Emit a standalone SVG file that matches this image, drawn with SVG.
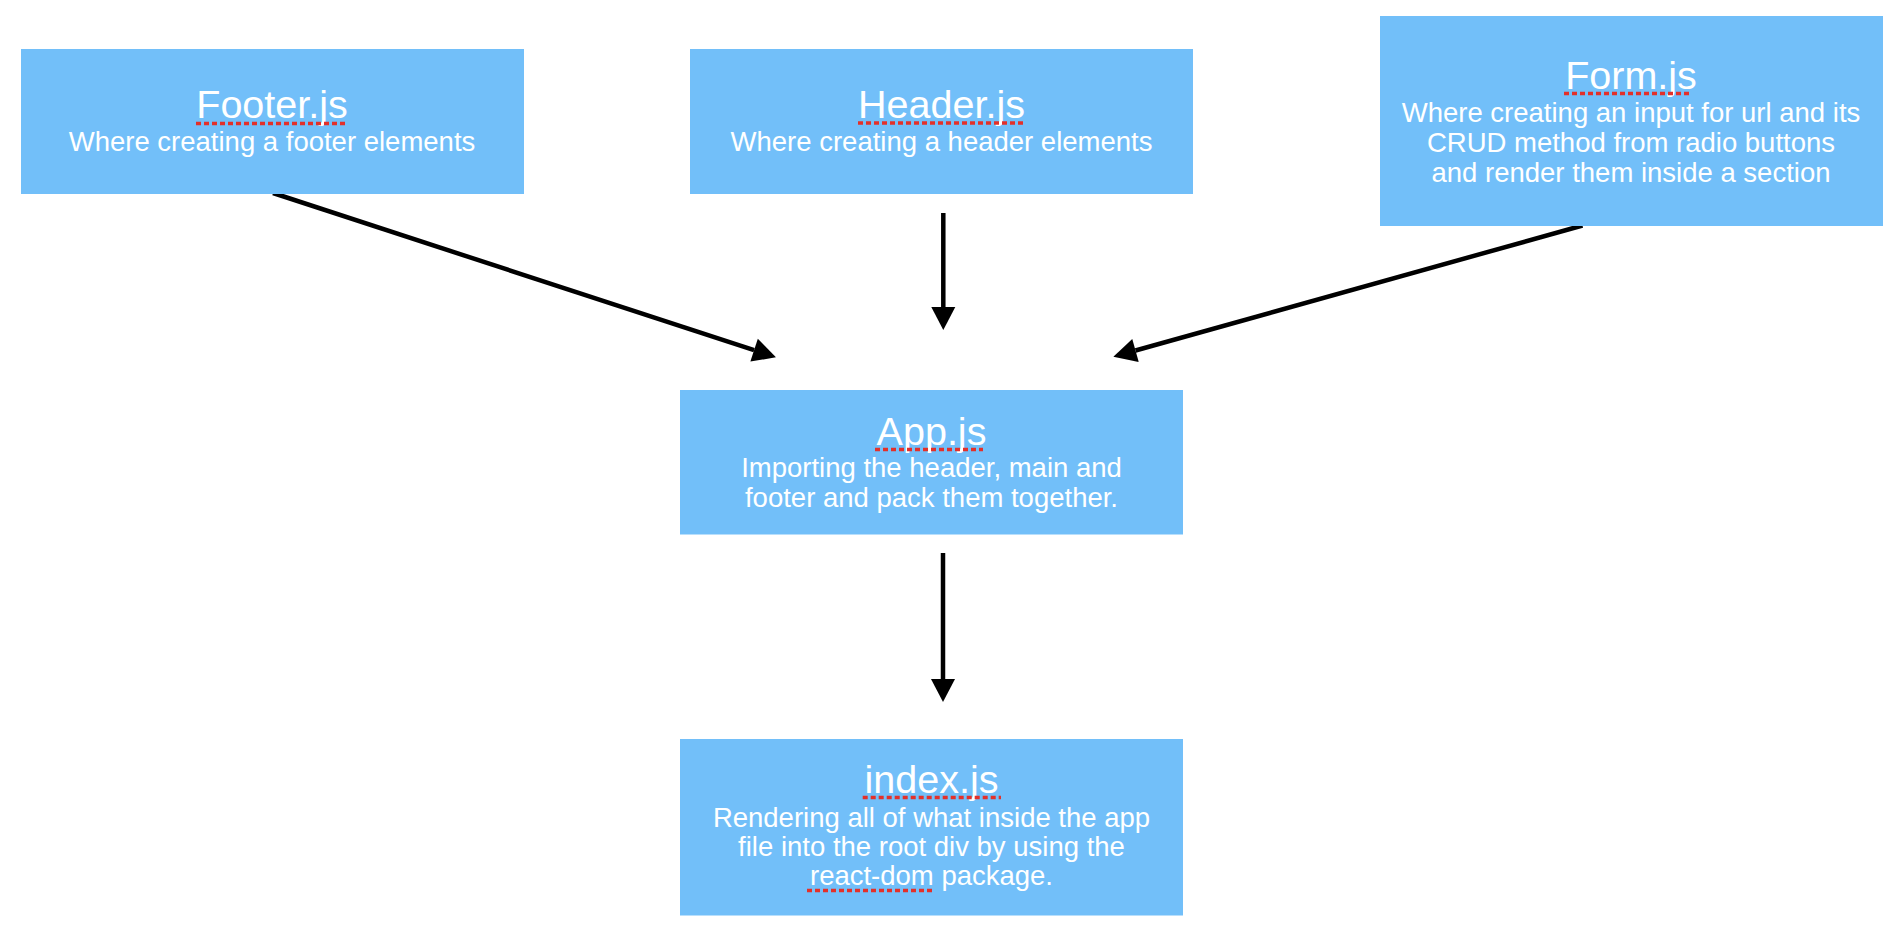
<svg xmlns="http://www.w3.org/2000/svg" width="1890" height="932" viewBox="0 0 1890 932">
<style>
.box{fill:#72bff9;stroke:none}
.t{font-family:"Liberation Sans",Arial,Helvetica,sans-serif;fill:#ffffff;text-anchor:middle}
.ti{font-size:39.5px}
.st{font-size:27.5px}
.sp{stroke:#e3302a;stroke-width:3.5;stroke-dasharray:5 3;fill:none}
.c{stroke:#000;stroke-width:4.5;fill:none}
</style>
<defs>
<marker id="ah" markerUnits="userSpaceOnUse" markerWidth="24" markerHeight="24" refX="0" refY="12" orient="auto" overflow="visible">
<path d="M0,0 L23,12 L0,24 Z" fill="#000"/>
</marker>
</defs>
<rect width="1890" height="932" fill="#ffffff"/>
<g id="connectors">
<line class="c" x1="273" y1="193" x2="754.1" y2="350.2" marker-end="url(#ah)"/>
<line class="c" x1="943.3" y1="213" x2="943.3" y2="307" marker-end="url(#ah)"/>
<line class="c" x1="1582.5" y1="225.5" x2="1135.5" y2="350.5" marker-end="url(#ah)"/>
<line class="c" x1="943" y1="553" x2="943" y2="679" marker-end="url(#ah)"/>
</g>
<g id="footer">
<rect class="box" x="21" y="49" width="503" height="145"/>
<text class="t ti" x="272" y="118.3">Footer.js</text>
<line class="sp" x1="196" y1="123.5" x2="345" y2="123.5"/>
<text class="t st" x="272" y="151">Where creating a footer elements</text>
</g>
<g id="header">
<rect class="box" x="690" y="49" width="503" height="145"/>
<text class="t ti" x="941.5" y="117.8">Header.js</text>
<line class="sp" x1="858" y1="123" x2="1025" y2="123"/>
<text class="t st" x="941.5" y="151">Where creating a header elements</text>
</g>
<g id="form">
<rect class="box" x="1380" y="16" width="503" height="210"/>
<text class="t ti" x="1631" y="88.5">Form.js</text>
<line class="sp" x1="1564" y1="93.5" x2="1692" y2="93.5"/>
<text class="t st" x="1631" y="121.7">Where creating an input for url and its</text>
<text class="t st" x="1631" y="152">CRUD method from radio buttons</text>
<text class="t st" x="1631" y="182.3">and render them inside a section</text>
</g>
<g id="app">
<rect class="box" x="680" y="390" width="503" height="144.5"/>
<text class="t ti" x="931.5" y="445">App.js</text>
<line class="sp" x1="875" y1="449.5" x2="983" y2="449.5"/>
<text class="t st" x="931.5" y="476.7">Importing the header, main and</text>
<text class="t st" x="931.5" y="507.3">footer and pack them together.</text>
</g>
<g id="index">
<rect class="box" x="680" y="739" width="503" height="176.5"/>
<text class="t ti" x="931.5" y="793.3">index.js</text>
<line class="sp" x1="862.7" y1="797.5" x2="1001" y2="797.5"/>
<text class="t st" x="931.5" y="826.5">Rendering all of what inside the app</text>
<text class="t st" x="931.5" y="855.8">file into the root div by using the</text>
<text class="t st" x="931.5" y="884.8">react-dom package.</text>
<line class="sp" x1="807" y1="890.5" x2="935" y2="890.5"/>
</g>
</svg>
